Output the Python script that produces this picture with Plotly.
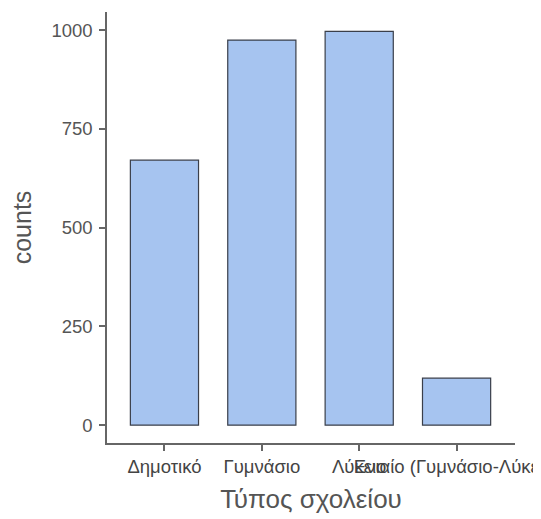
import plotly.graph_objects as go

categories = ["Δημοτικό", "Γυμνάσιο", "Λύκειο", "Ενιαίο (Γυμνάσιο-Λύκειο)"]
counts = [671, 975, 997, 119]
y_ticks = [0, 250, 500, 750, 1000]

fig = go.Figure(go.Bar(
    x=categories, y=counts, width=0.7,
    marker=dict(color="#A6C4F0", line=dict(color="#3a3f4a", width=1.2)),
))

font_family = "Arial, Liberation Sans, sans-serif"
# page body has an 8px default margin, so the figure is made 8px smaller
fig.update_layout(
    width=533, height=511,
    margin=dict(l=99, r=26, t=4, b=76),
    plot_bgcolor="white", paper_bgcolor="white",
    font=dict(family=font_family, color="#333333"),
    showlegend=False,
)
fig.update_xaxes(
    range=[-0.59, 3.6], tickangle=0, automargin=False,
    showline=True, linecolor="#666666", linewidth=1.5,
    ticks="outside", ticklen=6, tickcolor="#666666", tickwidth=1.5,
    tickfont=dict(size=18.5, color="#444444"),
    title=dict(text="Τύπος σχολείου", font=dict(size=26, color="#555555"), standoff=14),
    showgrid=False, zeroline=False,
)
fig.update_yaxes(
    range=[-45, 1046], tickvals=y_ticks, automargin=False,
    showline=True, linecolor="#666666", linewidth=1.5,
    ticks="outside", ticklen=6, tickcolor="#666666", tickwidth=1.5,
    ticklabelstandoff=3,
    tickfont=dict(size=18.5, color="#555555"),
    title=dict(text="counts", font=dict(size=25, color="#555555"), standoff=14),
    showgrid=False, zeroline=False,
)
fig.write_html("out.html")
